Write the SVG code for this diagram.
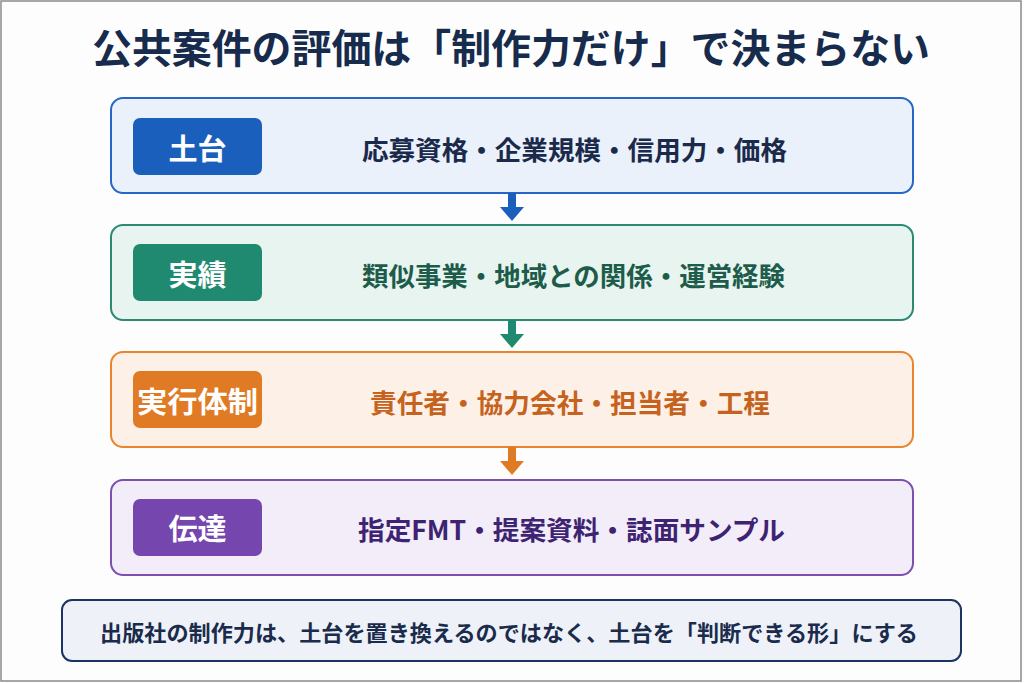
<svg xmlns="http://www.w3.org/2000/svg" width="1024" height="683" viewBox="0 0 1024 683">
  <style>
    text { font-family: "Noto Sans CJK JP", "Noto Sans", sans-serif; font-weight: 700; dominant-baseline: central; text-anchor: middle; }
    .title { font-size: 40px; fill: #172b4d; }
    .badge-t { font-size: 29px; fill: #ffffff; }
    .main { font-size: 26.5px; }
    .note { font-size: 22px; fill: #1a2b4c; }
    .card { stroke-width: 2; }
  </style>
  <rect x="0" y="0" width="1024" height="683" fill="#fdfdfd"/>
  <rect x="1" y="1" width="1020" height="680" fill="none" stroke="#8a8a8a" stroke-width="1.5"/>
  <g id="title"><text class="title" x="511" y="46" textLength="838" lengthAdjust="spacingAndGlyphs">公共案件の評価は「制作力だけ」で決まらない</text></g>

  <g id="node-dodai">
    <rect class="card" x="111" y="98" width="802" height="95" rx="12" fill="#eaf1fb" stroke="#2666c8"/>
    <rect x="133" y="118" width="129" height="57" rx="7" fill="#1b5fbd"/>
    <text class="badge-t" x="197.5" y="147">土台</text>
    <text class="main" x="574.5" y="148" fill="#1b2a4a" textLength="425" lengthAdjust="spacingAndGlyphs">応募資格・企業規模・信用力・価格</text>
  </g>
  <g id="node-jisseki">
    <rect class="card" x="111" y="225" width="802" height="95" rx="12" fill="#e7f4f0" stroke="#2a8a72"/>
    <rect x="133" y="244" width="129" height="57" rx="7" fill="#1f8a6f"/>
    <text class="badge-t" x="197.5" y="273">実績</text>
    <text class="main" x="573.5" y="274" fill="#1d5c4a" textLength="423" lengthAdjust="spacingAndGlyphs">類似事業・地域との関係・運営経験</text>
  </g>
  <g id="node-taisei">
    <rect class="card" x="111" y="352" width="802" height="95" rx="12" fill="#fdf1e7" stroke="#e9842f"/>
    <rect x="133" y="371" width="129" height="57" rx="7" fill="#e17a25"/>
    <text class="badge-t" x="197.5" y="400" textLength="121" lengthAdjust="spacingAndGlyphs">実行体制</text>
    <text class="main" x="570" y="401" fill="#c5621e" textLength="400" lengthAdjust="spacingAndGlyphs">責任者・協力会社・担当者・工程</text>
  </g>
  <g id="node-dentatsu">
    <rect class="card" x="111" y="480" width="802" height="95" rx="12" fill="#f2edf8" stroke="#7d4fb3"/>
    <rect x="133" y="499" width="129" height="57" rx="7" fill="#7446ae"/>
    <text class="badge-t" x="197.5" y="527">伝達</text>
    <text class="main" x="571.5" y="528" fill="#3e2372" textLength="427" lengthAdjust="spacingAndGlyphs">指定FMT・提案資料・誌面サンプル</text>
  </g>
  <g id="node-note">
    <rect x="62" y="600" width="899" height="61" rx="10" fill="#eef2f8" stroke="#1b3461" stroke-width="2"/>
    <text class="note" x="509" y="631" textLength="818" lengthAdjust="spacingAndGlyphs">出版社の制作力は、土台を置き換えるのではなく、土台を「判断できる形」にする</text>
  </g>

  <g id="connectors">
    <rect x="508" y="193" width="8" height="15" fill="#1b5fbd"/>
    <polygon points="500,207 524,207 512,221" fill="#1b5fbd"/>
    <rect x="508" y="320" width="8" height="15" fill="#1f8a6f"/>
    <polygon points="500,334 524,334 512,348" fill="#1f8a6f"/>
    <rect x="508" y="447" width="8" height="15" fill="#e17a25"/>
    <polygon points="500,461 524,461 512,475" fill="#e17a25"/>
  </g>
</svg>
